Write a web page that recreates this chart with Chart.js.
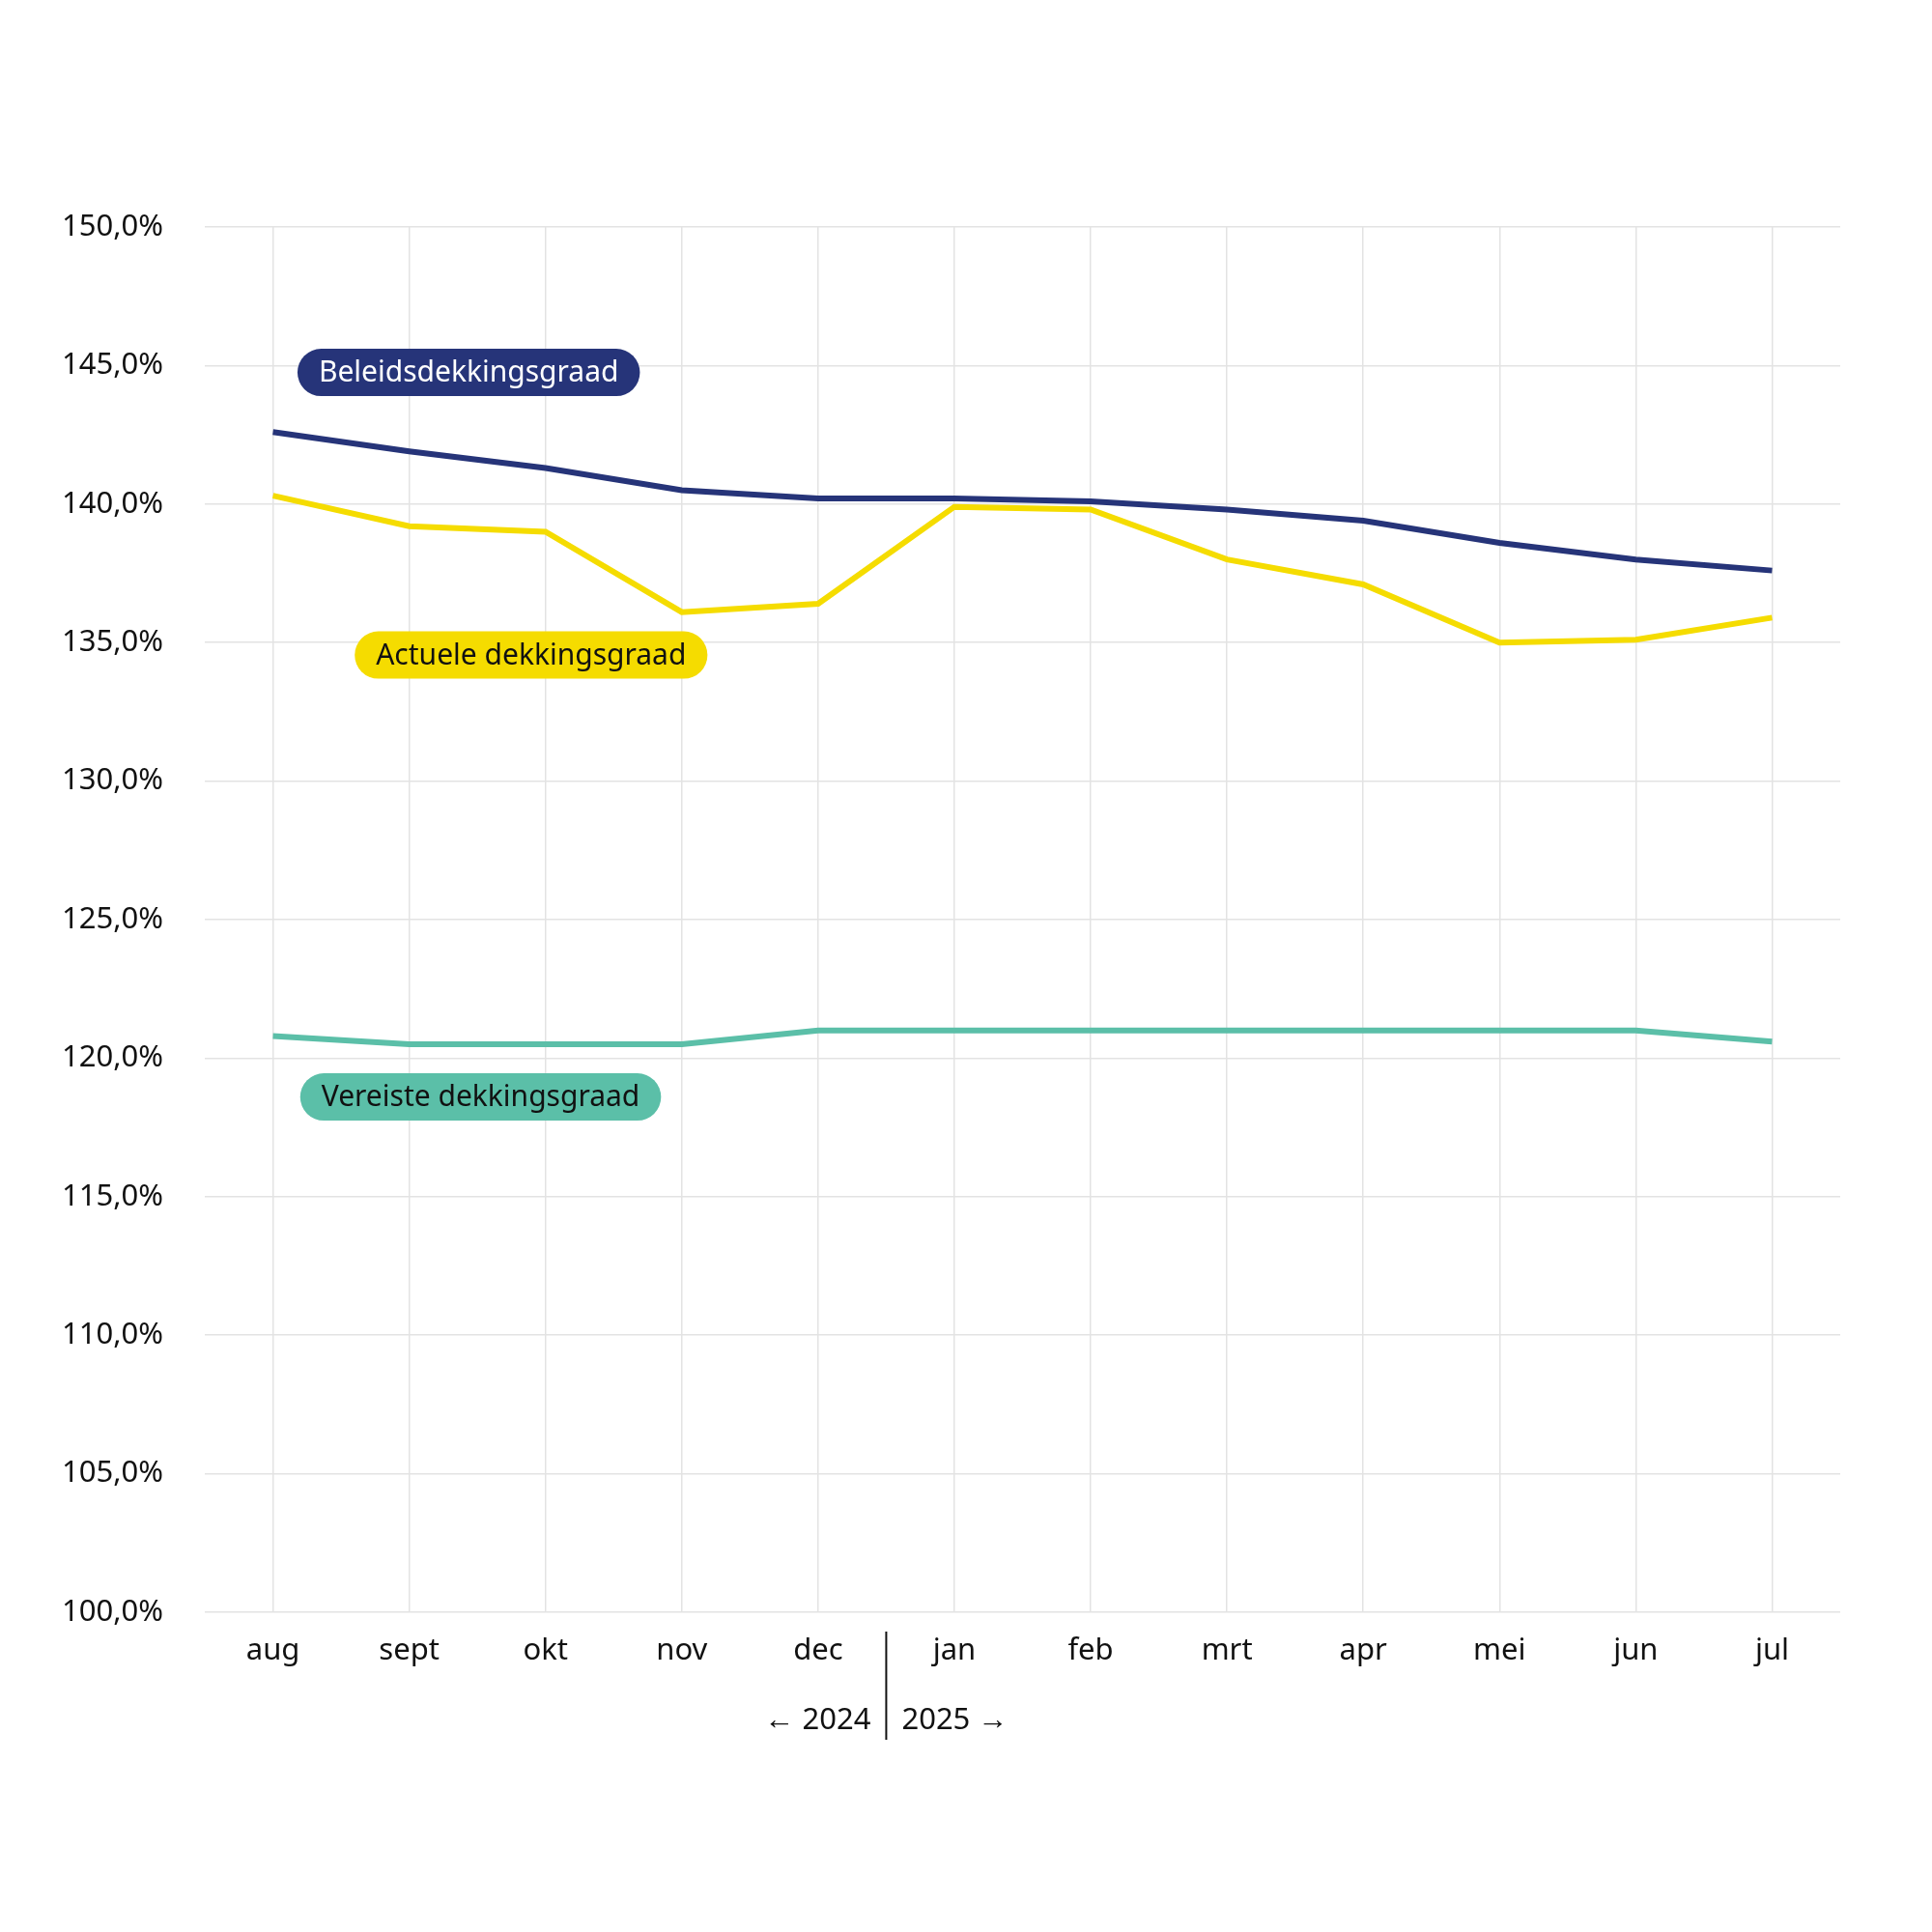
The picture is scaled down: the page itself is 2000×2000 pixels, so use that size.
<!DOCTYPE html>
<html><head><meta charset="utf-8">
<script src="https://cdn.jsdelivr.net/npm/chart.js@4/dist/chart.umd.min.js"></script>
<style>html,body{margin:0;background:#fff}#c{width:2000px;height:2000px;display:block}</style>
</head><body>
<canvas id="c" width="2000" height="2000"></canvas>
<script>
const months = ['aug','sept','okt','nov','dec','jan','feb','mrt','apr','mei','jun','jul'];
const beleids = [142.6,141.9,141.3,140.5,140.2,140.2,140.1,139.8,139.4,138.6,138.0,137.6];
const actueel = [140.3,139.2,139.0,136.1,136.4,139.9,139.8,138.0,137.1,135.0,135.1,135.9];
const vereist = [120.8,120.5,120.5,120.5,121.0,121.0,121.0,121.0,121.0,121.0,121.0,120.6];
const yearLeft = '\u2190 2024', yearRight = '2025 \u2192';

const FONT = "'Noto Sans', sans-serif";
const navy = '#263479', yellow = '#f5dc00', teal = '#5bbfa8';

// pill labels: [text, x index, y value, bg, fg]
const pills = [
  ['Beleidsdekkingsgraad', 0.18, 144.75, navy, '#fff'],
  ['Actuele dekkingsgraad', 0.6, 134.55, yellow, '#111'],
  ['Vereiste dekkingsgraad', 0.2, 118.6, teal, '#111']
];

const extras = {
  id: 'extras',
  afterDraw(chart) {
    const ctx = chart.ctx, x = chart.scales.x, y = chart.scales.y;
    ctx.save();
    ctx.font = '400 30px ' + FONT;
    ctx.textBaseline = 'middle';
    pills.forEach(([t, xi, yv, bg, fg]) => {
      const left = x.getPixelForValue(0) + (x.getPixelForValue(1) - x.getPixelForValue(0)) * xi;
      const cy = y.getPixelForValue(yv);
      const w = ctx.measureText(t).width + 44, h = 49;
      ctx.fillStyle = bg;
      ctx.beginPath();
      ctx.roundRect(left, cy - h / 2, w, h, h / 2);
      ctx.fill();
      ctx.fillStyle = fg;
      ctx.textAlign = 'left';
      ctx.fillText(t, left + 22, cy + 1);
    });
    // year divider
    const sep = (x.getPixelForValue(4) + x.getPixelForValue(5)) / 2;
    const top = chart.chartArea.bottom + 20;
    ctx.strokeStyle = '#111'; ctx.lineWidth = 2;
    ctx.beginPath(); ctx.moveTo(sep, top); ctx.lineTo(sep, top + 112); ctx.stroke();
    ctx.fillStyle = '#111';
    ctx.font = '400 31px ' + FONT;
    ctx.textAlign = 'right'; ctx.fillText(yearLeft, sep - 16, top + 92);
    ctx.textAlign = 'left'; ctx.fillText(yearRight, sep + 16, top + 92);
    ctx.restore();
  }
};

const ds = (label, data, color) => ({
  label, data, borderColor: color, backgroundColor: color,
  borderWidth: 6, pointRadius: 0, tension: 0, borderCapStyle: 'butt'
});

new Chart(document.getElementById('c'), {
  type: 'line',
  data: { labels: months, datasets: [ds('Vereiste dekkingsgraad', vereist, teal), ds('Actuele dekkingsgraad', actueel, yellow), ds('Beleidsdekkingsgraad', beleids, navy)] },
  options: {
    responsive: false, animation: false, devicePixelRatio: 1,
    layout: { padding: { top: 235, right: 95, bottom: 251, left: 0 } },
    plugins: { legend: { display: false }, tooltip: { enabled: false } },
    scales: {
      x: {
        offset: true,
        grid: { offset: false, color: '#e3e3e3', lineWidth: 1.5, drawTicks: false },
        border: { display: false },
        ticks: { color: '#111', font: { family: FONT, size: 31 }, padding: 22, maxRotation: 0 },
        afterFit: s => { s.height = 80; }
      },
      y: {
        min: 100, max: 150,
        grid: { color: '#e3e3e3', lineWidth: 1.5, drawTicks: false },
        border: { display: false },
        ticks: { stepSize: 5, color: '#111', font: { family: FONT, size: 31 }, padding: 43,
          callback: v => v.toFixed(1).replace('.', ',') + '%' },
        afterFit: s => { s.width = 212; }
      }
    }
  },
  plugins: [extras]
});
</script>
</body></html>
